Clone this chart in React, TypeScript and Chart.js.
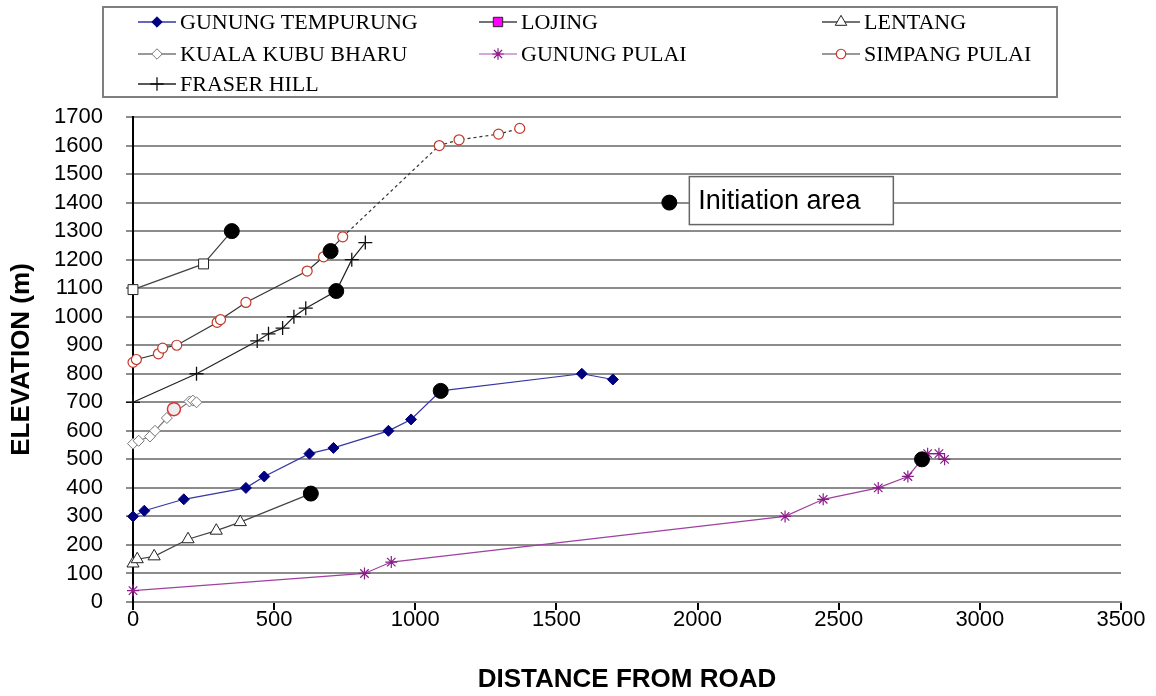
import React, { useEffect, useRef } from 'react';
import { Chart, registerables } from 'chart.js';

Chart.register(...registerables);

// ---- axis settings ----
const X_MIN = 0;
const X_MAX = 3500;
const X_STEP = 500;
const Y_MIN = 0;
const Y_MAX = 1700;
const Y_STEP = 100;
const X_TITLE = 'DISTANCE FROM ROAD';
const Y_TITLE = 'ELEVATION (m)';

// ---- series data [distance, elevation] ----
const gunungTempurung: number[][] = [
  [0, 300], [40, 320], [180, 360], [400, 400], [465, 440], [625, 520], [710, 540],
  [905, 600], [985, 640], [1590, 800], [1700, 780],
];
const lojing: number[][] = [[0, 1095], [250, 1185]];
const lentang: number[][] = [[0, 135], [15, 150], [75, 160], [195, 220], [295, 250], [380, 280]];
const kualaKubuBharu: number[][] = [
  [0, 555], [20, 565], [60, 580], [78, 600], [120, 645], [200, 703], [212, 706], [225, 700],
];
const gunungPulai: number[][] = [
  [0, 40], [820, 100], [915, 140], [2310, 300], [2445, 360], [2640, 400], [2745, 440],
  [2815, 520], [2855, 520], [2875, 500],
];
const simpangPulai: number[][] = [
  [0, 840], [12, 850], [90, 870], [105, 890], [155, 900], [298, 980], [310, 990], [400, 1050],
  [617, 1160], [675, 1210], [743, 1280], [1085, 1600], [1155, 1620], [1295, 1640], [1370, 1660],
];
const SIMPANG_DASH_FROM = 10; // segments after this index are dashed
const fraserHill: number[][] = [
  [0, 700], [225, 800], [440, 915], [480, 940], [530, 960], [570, 1000], [612, 1030],
  [775, 1200], [823, 1260],
];

// ---- initiation areas ----
const initTempurung = [1090, 740];
const initLojing = [350, 1300];
const initLentang = [630, 380];
const initPulai = [2795, 500];
const initSimpang = [700, 1230];
const initFraser = [720, 1090];
const initKKB = [145, 676];
const initKey = [1900, 1400];
const INIT_LABEL = 'Initiation area';

type Style = {
  name: string;
  pointStyle: string;
  radius: number;
  fill: string;
  stroke: string;
  markerWidth: number;
  line: string;
  lineWidth: number;
  legendFill?: string;
  legendLine?: string;
};

const styles: Style[] = [
  { name: 'GUNUNG TEMPURUNG', pointStyle: 'rectRot', radius: 5.5, fill: '#000080', stroke: '#000080', markerWidth: 1, line: '#3636a4', lineWidth: 1.2 },
  { name: 'LOJING', pointStyle: 'rect', radius: 7, fill: '#ffffff', stroke: '#222222', markerWidth: 1, line: '#444444', lineWidth: 1.2, legendFill: '#ff00ff' },
  { name: 'LENTANG', pointStyle: 'triangle', radius: 7, fill: '#ffffff', stroke: '#222222', markerWidth: 1, line: '#444444', lineWidth: 1.2 },
  { name: 'KUALA KUBU BHARU', pointStyle: 'rectRot', radius: 5.5, fill: '#ffffff', stroke: '#777777', markerWidth: 1, line: '#777777', lineWidth: 1.2 },
  { name: 'GUNUNG PULAI', pointStyle: 'star', radius: 6, fill: '#8b1a8b', stroke: '#8b1a8b', markerWidth: 1.2, line: '#a040a0', lineWidth: 1.2, legendLine: '#cc88cc' },
  { name: 'SIMPANG PULAI', pointStyle: 'circle', radius: 5, fill: '#ffffff', stroke: '#c0392b', markerWidth: 1.2, line: '#333333', lineWidth: 1.2, legendLine: '#777777' },
  { name: 'FRASER HILL', pointStyle: 'cross', radius: 7, fill: '#111111', stroke: '#111111', markerWidth: 1.3, line: '#222222', lineWidth: 1.2 },
];

const seriesData: number[][][] = [gunungTempurung, lojing, lentang, kualaKubuBharu, gunungPulai, simpangPulai, fraserHill];
const seriesInit: (number[] | null)[] = [initTempurung, initLojing, initLentang, null, initPulai, null, initFraser];

function merge(series: number[][], init: number[] | null) {
  const pts = series.map(([x, y]) => ({ x, y, init: false }));
  if (init) pts.push({ x: init[0], y: init[1], init: true });
  pts.sort((a, b) => a.x - b.x);
  return pts;
}

function drawMarker(ctx: CanvasRenderingContext2D, style: string, x: number, y: number, r: number, fill: string, stroke: string, lw: number) {
  ctx.save();
  ctx.beginPath();
  ctx.lineWidth = lw;
  ctx.fillStyle = fill;
  ctx.strokeStyle = stroke;
  switch (style) {
    case 'rectRot':
      ctx.moveTo(x - r, y); ctx.lineTo(x, y - r); ctx.lineTo(x + r, y); ctx.lineTo(x, y + r); ctx.closePath();
      ctx.fill(); ctx.stroke(); break;
    case 'rect': {
      const s = r * Math.SQRT1_2;
      ctx.rect(x - s, y - s, 2 * s, 2 * s); ctx.fill(); ctx.stroke(); break;
    }
    case 'triangle':
      ctx.moveTo(x, y - r); ctx.lineTo(x + 0.866 * r, y + 0.5 * r); ctx.lineTo(x - 0.866 * r, y + 0.5 * r); ctx.closePath();
      ctx.fill(); ctx.stroke(); break;
    case 'circle':
      ctx.arc(x, y, r, 0, Math.PI * 2); ctx.fill(); ctx.stroke(); break;
    case 'cross':
      ctx.moveTo(x - r, y); ctx.lineTo(x + r, y); ctx.moveTo(x, y - r); ctx.lineTo(x, y + r); ctx.stroke(); break;
    case 'star': {
      const d = r * Math.SQRT1_2;
      ctx.moveTo(x - r, y); ctx.lineTo(x + r, y); ctx.moveTo(x, y - r); ctx.lineTo(x, y + r);
      ctx.moveTo(x - d, y - d); ctx.lineTo(x + d, y + d); ctx.moveTo(x - d, y + d); ctx.lineTo(x + d, y - d);
      ctx.stroke(); break;
    }
  }
  ctx.restore();
}

const legendCols = [157, 498, 841];
const legendRows = [22, 54, 84];

const customPlugin = {
  id: 'custom',
  afterDatasetsDraw(chart: any) {
    const ctx: CanvasRenderingContext2D = chart.ctx;
    const xs = chart.scales.x;
    const ys = chart.scales.y;
    const kx = xs.getPixelForValue(initKey[0]);
    const ky = ys.getPixelForValue(initKey[1]);
    ctx.save();
    const bx = kx + 20, by = ky - 26, bw = 204, bh = 48;
    ctx.fillStyle = '#ffffff';
    ctx.fillRect(bx, by, bw, bh);
    ctx.strokeStyle = '#666666';
    ctx.lineWidth = 1.5;
    ctx.strokeRect(bx, by, bw, bh);
    ctx.fillStyle = '#000000';
    ctx.font = '27px "Liberation Sans", Arial, sans-serif';
    ctx.textBaseline = 'middle';
    ctx.textAlign = 'left';
    ctx.fillText(INIT_LABEL, bx + 9, by + bh / 2 + 1);
    ctx.restore();
  },
  afterDraw(chart: any) {
    const ctx: CanvasRenderingContext2D = chart.ctx;
    ctx.save();
    ctx.strokeStyle = '#7f7f7f';
    ctx.lineWidth = 2;
    ctx.strokeRect(103, 7, 954, 90);
    ctx.font = '22px "Liberation Serif", "Times New Roman", serif';
    ctx.textBaseline = 'middle';
    ctx.textAlign = 'left';
    styles.forEach((s, i) => {
      const cx = legendCols[i % 3];
      const cy = legendRows[Math.floor(i / 3)];
      ctx.beginPath();
      ctx.strokeStyle = s.legendLine || s.line;
      ctx.lineWidth = 1.5;
      ctx.moveTo(cx - 19, cy);
      ctx.lineTo(cx + 19, cy);
      ctx.stroke();
      drawMarker(ctx, s.pointStyle, cx, cy, s.radius * 0.95, s.legendFill || s.fill, s.stroke, s.markerWidth);
      ctx.fillStyle = '#000000';
      ctx.fillText(s.name, cx + 23, cy + 1);
    });
    ctx.restore();
  },
};

export default function App() {
  const ref = useRef<HTMLCanvasElement>(null);
  useEffect(() => {
    if (!ref.current) return;
    const datasets: any[] = [];
    datasets.push({
      label: 'initiation',
      data: [initTempurung, initLojing, initLentang, initPulai, initSimpang, initFraser, initKey].map(([x, y]) => ({ x, y })),
      showLine: false,
      pointStyle: 'circle',
      pointRadius: 7.5,
      pointBackgroundColor: '#000000',
      pointBorderColor: '#000000',
      clip: false,
      order: -2,
    });
    datasets.push({
      label: 'initiation KKB',
      data: [{ x: initKKB[0], y: initKKB[1] }],
      showLine: false,
      pointStyle: 'circle',
      pointRadius: 6.5,
      pointBackgroundColor: '#eeeeee',
      pointBorderColor: '#e03030',
      pointBorderWidth: 1.5,
      clip: false,
      order: -1,
    });
    styles.forEach((s, i) => {
      const isSimpang = seriesData[i] === simpangPulai;
      datasets.push({
        label: s.name,
        data: merge(seriesData[i], seriesInit[i]),
        showLine: true,
        borderColor: s.line,
        borderWidth: s.lineWidth,
        pointStyle: s.pointStyle,
        pointRadius: (c: any) => (c.raw && c.raw.init ? 0 : s.radius),
        pointBackgroundColor: s.fill,
        pointBorderColor: s.stroke,
        pointBorderWidth: s.markerWidth,
        clip: false,
        segment: isSimpang
          ? { borderDash: (c: any) => (c.p0DataIndex >= SIMPANG_DASH_FROM ? [3, 3] : undefined) }
          : undefined,
        order: i,
      });
    });

    const tickFont = { family: '"Liberation Sans", Arial, sans-serif', size: 22 };
    const titleFont = { family: '"Liberation Sans", Arial, sans-serif', size: 26, weight: 'bold' as const };
    const plain = (v: any) => String(v);

    const chart = new Chart(ref.current, {
      type: 'scatter',
      data: { datasets },
      options: {
        animation: false,
        responsive: true,
        maintainAspectRatio: false,
        events: [],
        layout: { padding: { left: 0, right: 35, top: 117, bottom: 0 } },
        plugins: { legend: { display: false }, tooltip: { enabled: false } },
        scales: {
          x: {
            type: 'linear',
            min: X_MIN,
            max: X_MAX,
            ticks: { stepSize: X_STEP, font: tickFont, color: '#000000', padding: -3, maxRotation: 0, autoSkip: false, callback: plain },
            grid: { drawOnChartArea: false, drawTicks: true, tickLength: 8, tickColor: '#000000', lineWidth: 2 },
            border: { display: true, color: '#8c8c8c', width: 2 },
            title: { display: true, text: X_TITLE, font: titleFont, color: '#000000', padding: { top: 0, bottom: 1 } },
            afterFit: (scale: any) => { scale.height = 94; },
          },
          y: {
            type: 'linear',
            min: Y_MIN,
            max: Y_MAX,
            ticks: { stepSize: Y_STEP, font: tickFont, color: '#000000', padding: 23, autoSkip: false, callback: plain },
            grid: { color: '#8c8c8c', lineWidth: 2, tickLength: 7, tickColor: '#8c8c8c' },
            border: { display: true, color: '#000000', width: 2 },
            title: { display: true, text: Y_TITLE, font: titleFont, color: '#000000', padding: { top: 6, bottom: 0 } },
            afterFit: (scale: any) => { scale.width = 133; },
          },
        },
      },
      plugins: [customPlugin],
    } as any);
    return () => chart.destroy();
  }, []);

  return (
    <div style={{ position: 'absolute', left: 0, top: 0, width: 1156, height: 696, background: '#ffffff' }}>
      <canvas ref={ref} />
    </div>
  );
}
